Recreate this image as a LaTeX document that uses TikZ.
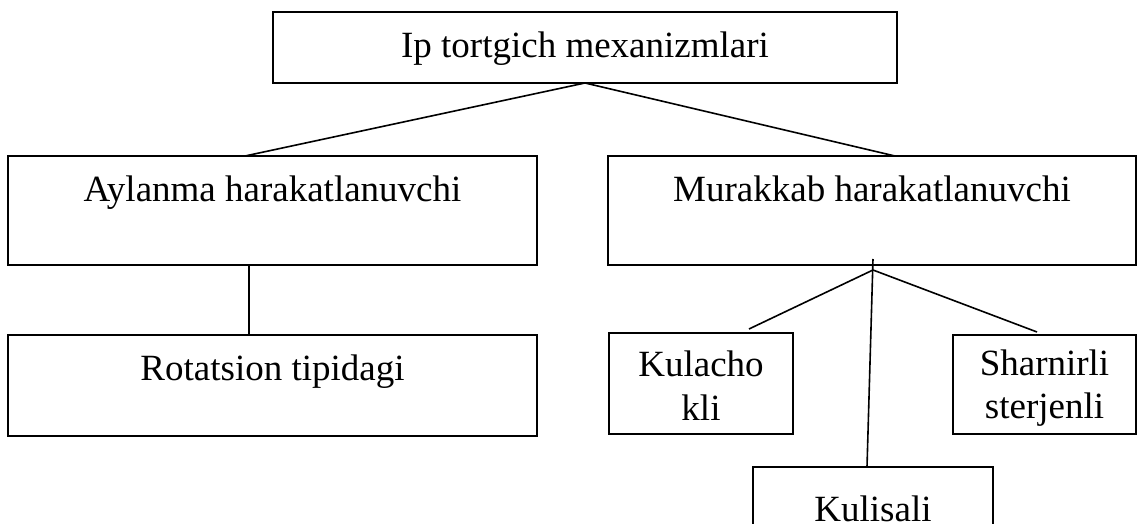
\documentclass[tikz,border=0pt]{standalone}
\usepackage{fontspec}
\setmainfont{Liberation Serif}
\usepackage{tikz}

\begin{document}
\begin{tikzpicture}[x=0.5pt, y=-0.5pt,
    box/.style={draw, line width=0.9pt, inner sep=0pt, outer sep=0pt, align=center,
        font=\fontsize{18.5}{21.5}\selectfont},
    link/.style={line width=0.8pt}]
\useasboundingbox (0,0) rectangle (1137,524);

% Top level
\node[box, minimum width=312pt, text height=23pt, text depth=12.5pt] (mexanizm) at (585,47.5) {Ip tortgich mexanizmlari};

% Second level
\node[box, minimum width=264.5pt, text height=23pt, text depth=31.5pt] (aylanma) at (272.5,210.5) {Aylanma harakatlanuvchi};
\node[box, minimum width=264pt, text height=23pt, text depth=31.5pt] (murakkab) at (872,210.5) {Murakkab harakatlanuvchi};

% Third level
\node[box, minimum width=264.5pt, text height=22.5pt, text depth=28pt] (rotatsion) at (272.5,385.5) {Rotatsion tipidagi};
\node[box, minimum width=92pt, text height=43.5pt, text depth=7pt] (kulacho) at (701,383.5) {Kulacho\\kli};
\node[box, minimum width=91.5pt, text height=41.5pt, text depth=8pt] (sharnirli) at (1044.5,384.5) {Sharnirli\\sterjenli};
\node[box, minimum width=120pt, text height=27pt, text depth=23pt] (kulisali) at (873,517) {Kulisali};

% Connectors
\draw[link] (mexanizm.south) -- ([xshift=-13.75pt]aylanma.north);
\draw[link] (mexanizm.south) -- ([xshift=11.5pt]murakkab.north);
\draw[link] ([xshift=-11.75pt]aylanma.south) -- ([xshift=-11.75pt]rotatsion.north);
\coordinate (hub) at ([xshift=0.5pt]murakkab.south);
\draw[link] ([yshift=-2.5pt]hub) -- ([xshift=24pt,yshift=2pt]kulacho.north);
\draw[link] ([yshift=-2.5pt]hub) -- ([xshift=-3.75pt,yshift=1.5pt]sharnirli.north);
\draw[link] ([yshift=3pt]hub) -- ([xshift=-3pt]kulisali.north);
\end{tikzpicture}
\end{document}
